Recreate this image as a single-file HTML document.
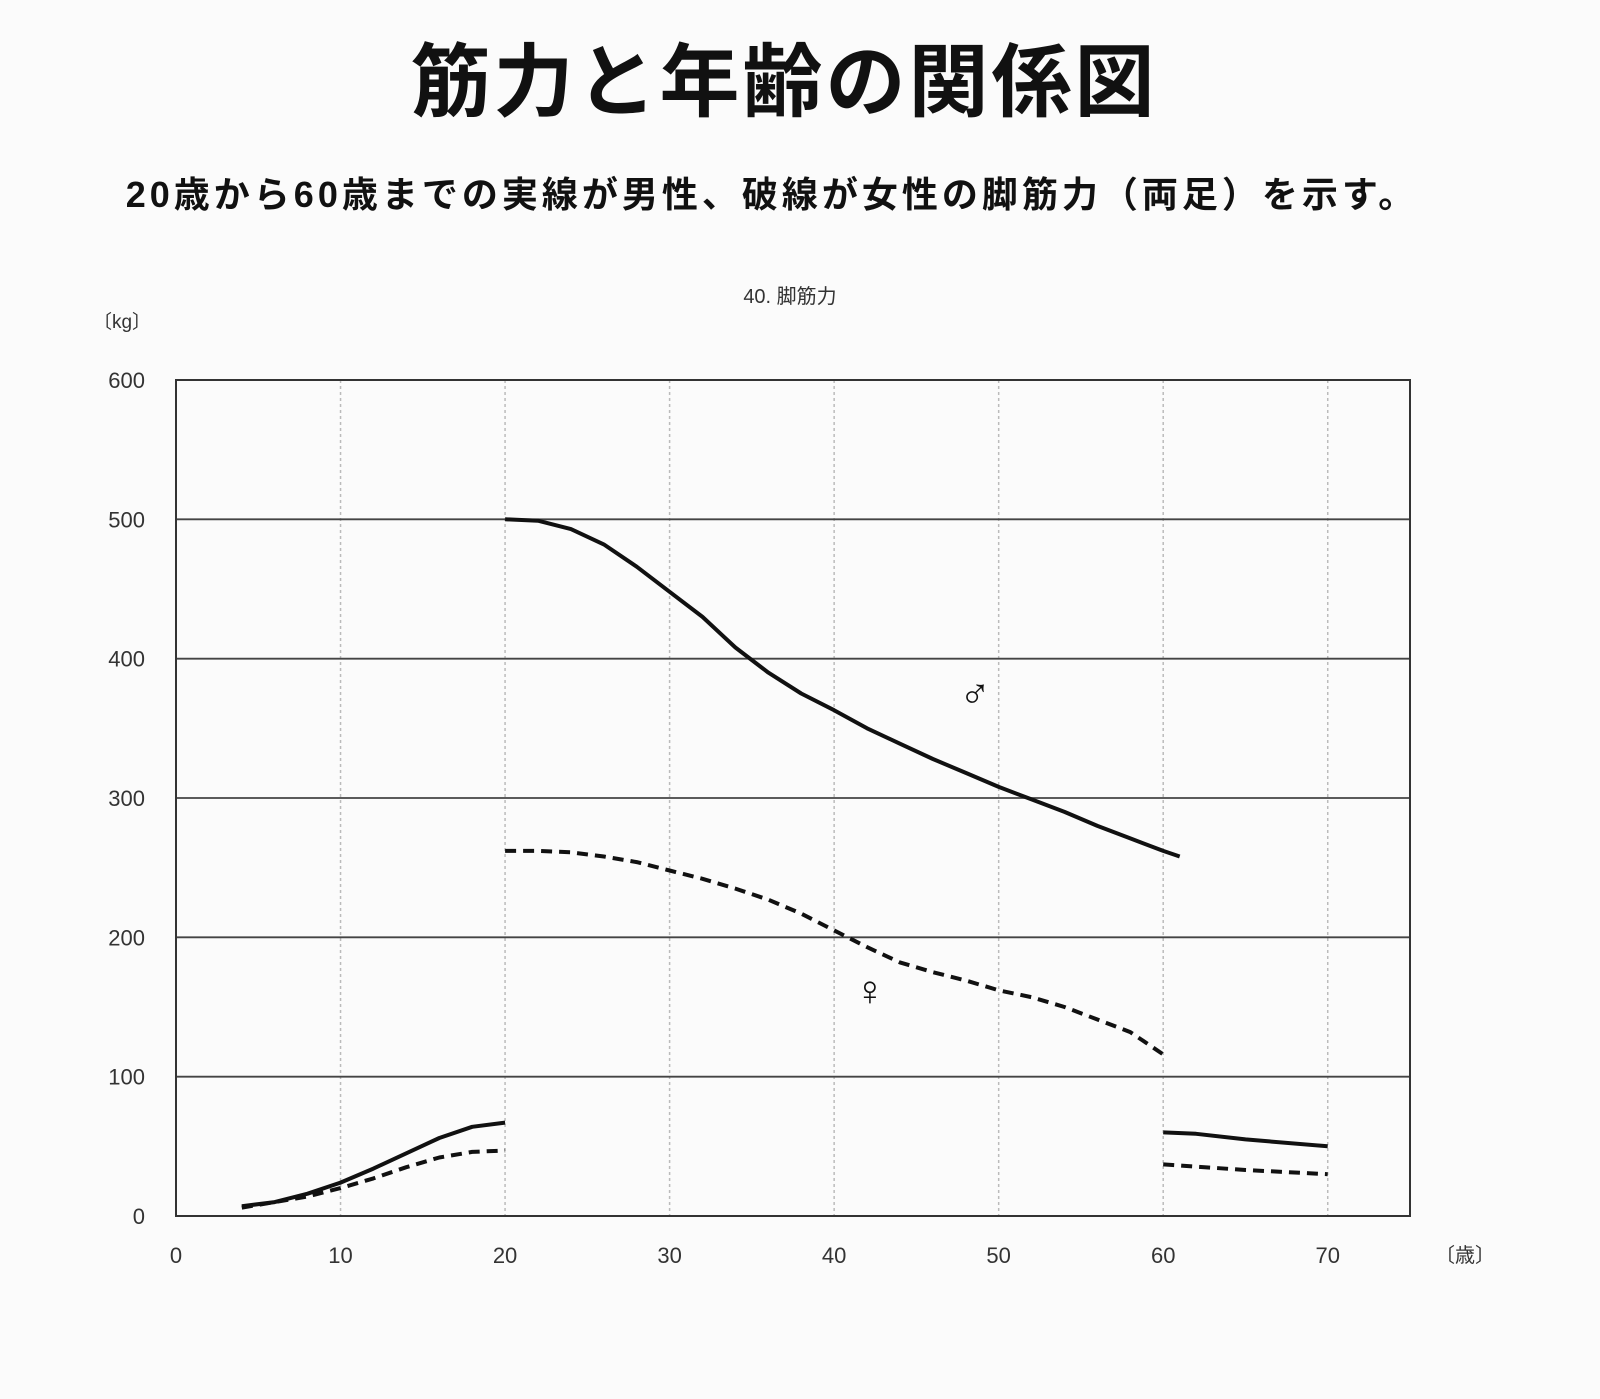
<!DOCTYPE html>
<html><head><meta charset="utf-8"><style>
body{margin:0;background:#fbfbfb;}
svg text{font-family:"Liberation Sans","Noto Sans CJK JP",sans-serif;}
</style></head><body>
<svg width="1600" height="1394" xmlns="http://www.w3.org/2000/svg">
<rect width="1600" height="1394" fill="#fbfbfb"/>
<text x="784" y="110" font-size="80" font-weight="bold" letter-spacing="3" text-anchor="middle" fill="#111">筋力と年齢の関係図</text>
<text x="772" y="207" font-size="36" font-weight="bold" letter-spacing="4" text-anchor="middle" fill="#111">20歳から60歳までの実線が男性、破線が女性の脚筋力（両足）を示す。</text>
<text x="790" y="303" font-size="20" text-anchor="middle" fill="#333">40. 脚筋力</text>
<text x="122" y="328" font-size="19" text-anchor="middle" fill="#333">〔kg〕</text>
<text x="1465" y="1262" font-size="20" text-anchor="middle" fill="#333">〔歳〕</text>
<g id="grid"></g>
<g id="series"></g>
<text x="975" y="708" font-size="42" text-anchor="middle" fill="#111">♂</text>
<text x="870" y="1005" font-size="42" text-anchor="middle" fill="#111">♀</text>
<rect x="176" y="380" width="1234" height="836" fill="none" stroke="#333" stroke-width="2"/>
</svg>
<script>
const xTicks=[0,10,20,30,40,50,60,70];
const yTicks=[0,100,200,300,400,500,600];
const maleAdultX=[20,22,24,26,28,30,32,34,36,38,40,42,44,46,48,50,52,54,56,58,60,61];
const maleAdultY=[500,499,493,482,466,448,430,408,390,375,363,350,339,328,318,308,299,290,280,271,262,258];
const femaleAdultX=[20,22,24,26,28,30,32,34,36,38,40,42,44,46,48,50,52,54,56,58,60];
const femaleAdultY=[262,262,261,258,254,248,242,235,227,217,205,193,182,175,169,162,157,150,141,132,116];
const maleYouthX=[4,6,8,10,12,14,16,18,20];
const maleYouthY=[7,10,16,24,34,45,56,64,67];
const femaleYouthX=[4,6,8,10,12,14,16,18,20];
const femaleYouthY=[6,10,14,20,27,35,42,46,47];
const maleOldX=[60,62,65,70];
const maleOldY=[60,59,55,50];
const femaleOldX=[60,65,70];
const femaleOldY=[37,33,30];
const NS="http://www.w3.org/2000/svg";
const X=v=>176+v*(1234/75);
const Y=v=>1216-v*(836/600);
const grid=document.getElementById('grid');
function mk(t,a,p){const e=document.createElementNS(NS,t);for(const k in a)e.setAttribute(k,a[k]);p.appendChild(e);return e;}
xTicks.forEach(t=>{
 if(t>0){const l=mk('line',{x1:X(t),x2:X(t),y1:380,y2:1216,stroke:'#bbb','stroke-width':1.5,'stroke-dasharray':'3,3'},grid);
 
 }
 const tx=mk('text',{x:X(t),y:1263,'font-size':22,'text-anchor':'middle',fill:'#333'},grid);tx.textContent=t;
 
 
});
yTicks.forEach(t=>{
 if(t>0){const l=mk('line',{x1:176,x2:1410,y1:Y(t),y2:Y(t),stroke:'#444','stroke-width':1.8},grid);
 
 }
 const tx=mk('text',{x:145,y:Y(t)+8,'font-size':22,'text-anchor':'end',fill:'#333'},grid);tx.textContent=t;
 
 
});
const ser=document.getElementById('series');
function line(xs,ys,dash,name){
 const d=xs.map((x,i)=>(i?'L':'M')+X(x).toFixed(1)+','+Y(ys[i]).toFixed(1)).join(' ');
 const p=mk('path',{d:d,fill:'none',stroke:'#111','stroke-width':4,'stroke-linejoin':'round'},ser);
 if(dash)p.setAttribute('stroke-dasharray','11,7');
 
 
}
line(maleAdultX,maleAdultY,false,'male-adult-line');
line(femaleAdultX,femaleAdultY,true,'female-adult-line');
line(maleYouthX,maleYouthY,false,'male-youth-line');
line(femaleYouthX,femaleYouthY,true,'female-youth-line');
line(maleOldX,maleOldY,false,'male-elderly-line');
line(femaleOldX,femaleOldY,true,'female-elderly-line');
</script>
</body></html>
